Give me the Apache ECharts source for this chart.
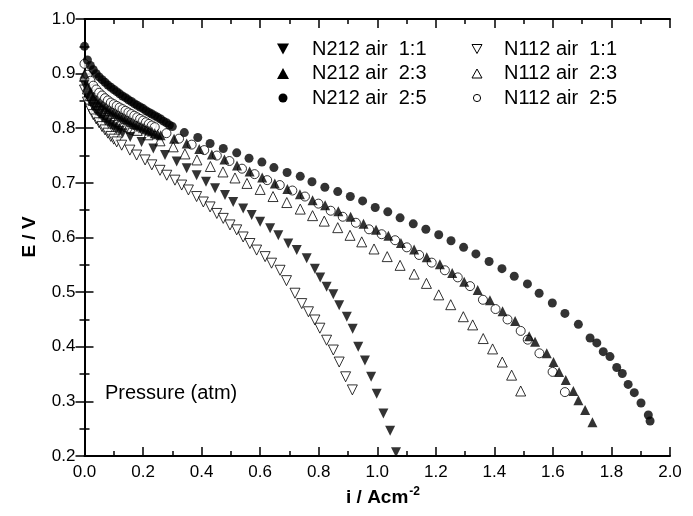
<!DOCTYPE html>
<html>
<head>
<meta charset="utf-8">
<script src="https://cdn.jsdelivr.net/npm/echarts@6/dist/echarts.min.js"></script>
<style>
  html, body { margin: 0; padding: 0; background: #fff; }
  #chart { width: 693px; height: 516px; }
</style>
</head>
<body>
<div id="chart"></div>
<script>
// Polarization curves: cell voltage E (V) vs current density i (A cm^-2), [i, E] pairs
const n212_11 = [
  [0.00,0.880],[0.01,0.860],[0.02,0.848],[0.03,0.839],[0.04,0.832],[0.05,0.826],[0.06,0.820],
  [0.07,0.815],[0.08,0.810],[0.09,0.806],[0.10,0.802],[0.11,0.798],[0.12,0.795],[0.13,0.791],
  [0.156,0.784],[0.195,0.775],[0.235,0.763],[0.275,0.751],[0.315,0.739],[0.349,0.727],[0.383,0.714],
  [0.415,0.702],[0.446,0.690],[0.480,0.678],[0.508,0.665],[0.542,0.653],[0.571,0.641],[0.600,0.629],
  [0.634,0.617],[0.662,0.604],[0.696,0.589],[0.725,0.577],[0.759,0.562],[0.787,0.543],[0.805,0.527],
  [0.827,0.510],[0.850,0.496],[0.870,0.476],[0.896,0.455],[0.916,0.433],[0.935,0.400],[0.958,0.375],
  [0.979,0.345],[0.998,0.314],[1.021,0.278],[1.044,0.246],[1.064,0.207]
];
const n212_23 = [
  [0.00,0.900],[0.01,0.878],[0.02,0.866],[0.03,0.858],[0.04,0.852],[0.05,0.847],[0.06,0.843],
  [0.07,0.839],[0.08,0.835],[0.09,0.832],[0.10,0.829],[0.11,0.826],[0.12,0.823],[0.13,0.820],
  [0.14,0.817],[0.15,0.814],[0.16,0.811],[0.17,0.808],[0.18,0.806],[0.19,0.803],[0.20,0.801],
  [0.21,0.798],[0.22,0.796],[0.23,0.794],[0.24,0.791],[0.25,0.789],[0.26,0.787],
  [0.306,0.781],[0.349,0.772],[0.392,0.762],[0.435,0.752],[0.478,0.743],[0.521,0.732],[0.564,0.721],
  [0.607,0.710],[0.650,0.699],[0.693,0.689],[0.736,0.679],[0.779,0.668],[0.822,0.659],[0.867,0.648],
  [0.909,0.638],[0.953,0.625],[0.996,0.614],[1.038,0.603],[1.081,0.590],[1.126,0.578],[1.169,0.564],
  [1.214,0.551],[1.256,0.535],[1.297,0.519],[1.343,0.504],[1.385,0.485],[1.428,0.465],[1.471,0.447],
  [1.519,0.419],[1.539,0.409],[1.579,0.388],[1.602,0.372],[1.621,0.354],[1.644,0.339],[1.670,0.319],
  [1.687,0.302],[1.710,0.284],[1.735,0.262]
];
const n212_25 = [
  [0.00,0.950],[0.01,0.925],[0.02,0.915],[0.03,0.907],[0.04,0.900],[0.05,0.894],[0.06,0.889],
  [0.07,0.884],[0.08,0.879],[0.09,0.875],[0.10,0.871],[0.11,0.867],[0.12,0.863],[0.13,0.859],
  [0.14,0.856],[0.15,0.852],[0.16,0.849],[0.17,0.845],[0.18,0.842],[0.19,0.839],[0.20,0.836],
  [0.21,0.832],[0.22,0.829],[0.23,0.826],[0.24,0.823],[0.25,0.820],[0.26,0.817],[0.27,0.813],
  [0.28,0.810],[0.29,0.806],[0.30,0.803],
  [0.341,0.792],[0.387,0.783],[0.429,0.772],[0.474,0.763],[0.520,0.755],[0.562,0.745],[0.606,0.738],
  [0.647,0.728],[0.692,0.719],[0.737,0.712],[0.777,0.702],[0.821,0.692],[0.865,0.684],[0.908,0.675],
  [0.950,0.667],[0.993,0.655],[1.036,0.647],[1.078,0.636],[1.123,0.625],[1.166,0.615],[1.210,0.605],
  [1.252,0.594],[1.295,0.582],[1.337,0.570],[1.382,0.556],[1.426,0.543],[1.468,0.529],[1.513,0.515],
  [1.553,0.498],[1.598,0.480],[1.641,0.461],[1.687,0.441],[1.727,0.416],[1.750,0.407],[1.772,0.391],
  [1.795,0.382],[1.818,0.362],[1.837,0.351],[1.857,0.331],[1.878,0.316],[1.901,0.297],[1.926,0.275],
  [1.932,0.264]
];
const n112_11 = [
  [0.00,0.870],[0.01,0.848],[0.02,0.835],[0.03,0.825],[0.04,0.817],[0.05,0.810],[0.06,0.803],
  [0.07,0.797],[0.08,0.791],[0.09,0.785],[0.10,0.780],[0.11,0.775],
  [0.127,0.769],[0.155,0.760],[0.178,0.751],[0.207,0.742],[0.230,0.733],[0.258,0.723],[0.281,0.714],
  [0.309,0.705],[0.332,0.696],[0.355,0.687],[0.383,0.675],[0.406,0.665],[0.429,0.656],[0.452,0.644],
  [0.474,0.635],[0.497,0.623],[0.520,0.614],[0.542,0.601],[0.565,0.589],[0.588,0.577],[0.617,0.565],
  [0.639,0.553],[0.668,0.540],[0.690,0.521],[0.719,0.498],[0.742,0.479],[0.765,0.464],[0.787,0.449],
  [0.804,0.434],[0.827,0.412],[0.850,0.394],[0.870,0.372],[0.892,0.345],[0.915,0.321]
];
const n112_23 = [
  [0.00,0.895],[0.01,0.872],[0.02,0.860],[0.03,0.851],[0.04,0.844],[0.05,0.838],[0.06,0.833],
  [0.07,0.829],[0.08,0.825],[0.09,0.821],[0.10,0.818],[0.11,0.815],[0.12,0.812],[0.13,0.809],
  [0.14,0.806],[0.15,0.803],[0.16,0.800],[0.17,0.798],[0.18,0.796],
  [0.217,0.788],[0.258,0.777],[0.303,0.766],[0.343,0.753],[0.384,0.742],[0.430,0.730],[0.473,0.720],
  [0.514,0.709],[0.555,0.699],[0.600,0.688],[0.644,0.675],[0.691,0.664],[0.737,0.652],[0.779,0.640],
  [0.819,0.630],[0.865,0.618],[0.907,0.604],[0.947,0.592],[0.989,0.579],[1.034,0.565],[1.078,0.549],
  [1.126,0.533],[1.168,0.516],[1.210,0.495],[1.251,0.477],[1.294,0.455],[1.326,0.440],[1.362,0.415],
  [1.394,0.396],[1.427,0.372],[1.459,0.348],[1.490,0.319]
];
const n112_25 = [
  [0.00,0.918],[0.01,0.898],[0.02,0.887],[0.03,0.878],[0.04,0.871],[0.05,0.865],[0.06,0.860],
  [0.07,0.855],[0.08,0.851],[0.09,0.847],[0.10,0.844],[0.11,0.841],[0.12,0.838],[0.13,0.835],
  [0.14,0.832],[0.15,0.829],[0.16,0.826],[0.17,0.823],[0.18,0.820],[0.19,0.817],[0.20,0.814],
  [0.21,0.811],[0.22,0.808],[0.23,0.805],[0.24,0.802],
  [0.280,0.791],[0.323,0.781],[0.366,0.770],[0.409,0.760],[0.452,0.750],[0.495,0.740],[0.538,0.726],
  [0.581,0.716],[0.624,0.705],[0.667,0.696],[0.710,0.686],[0.753,0.675],[0.799,0.662],[0.841,0.649],
  [0.882,0.638],[0.927,0.627],[0.972,0.615],[1.015,0.606],[1.061,0.595],[1.101,0.582],[1.143,0.568],
  [1.186,0.554],[1.231,0.540],[1.275,0.527],[1.317,0.511],[1.361,0.486],[1.404,0.469],[1.445,0.450],
  [1.490,0.429],[1.514,0.413],[1.554,0.388],[1.599,0.354],[1.641,0.317]
];

const seriesNames = ['N212 air  1:1', 'N212 air  2:3', 'N212 air  2:5',
                     'N112 air  1:1', 'N112 air  2:3', 'N112 air  2:5'];
const xRange = { min: 0, max: 2.0, step: 0.2 };
const yRange = { min: 0.2, max: 1.0, step: 0.1 };

const FONT = 'Liberation Sans, Arial, sans-serif';

// marker: shape name, rotation (deg), filled or hollow
const markers = [
  { symbol: 'triangle', rotate: 180, filled: true },
  { symbol: 'triangle', rotate: 0, filled: true },
  { symbol: 'circle', rotate: 0, filled: true },
  { symbol: 'triangle', rotate: 180, filled: false },
  { symbol: 'triangle', rotate: 0, filled: false },
  { symbol: 'circle', rotate: 0, filled: false }
];
const seriesData = [n212_11, n212_23, n212_25, n112_11, n112_23, n112_25];

function mkSeries(k) {
  const m = markers[k];
  return {
    name: seriesNames[k],
    type: 'scatter',
    data: seriesData[k],
    symbol: m.symbol,
    symbolRotate: m.rotate,
    symbolSize: m.symbol === 'circle' ? 9 : 10,
    itemStyle: {
      color: m.filled ? '#000' : '#fff',
      borderColor: '#000',
      borderWidth: m.filled ? 0 : 1
    },
    emphasis: { disabled: true },
    z: m.filled ? 3 : 2
  };
}

function axis(range, pos, labels, margin) {
  return {
    type: 'value', position: pos, min: range.min, max: range.max, interval: range.step,
    axisLine: { show: true, lineStyle: { color: '#000', width: 2 } },
    axisTick: { show: true, inside: true, length: 9, lineStyle: { color: '#000', width: 1.5 } },
    minorTick: { show: true, splitNumber: 2, length: 5, lineStyle: { color: '#000', width: 1.5 } },
    splitLine: { show: false },
    axisLabel: {
      show: labels, color: '#000', fontSize: 17, fontFamily: FONT, margin: margin,
      formatter: v => v.toFixed(1)
    }
  };
}

// key: symbols drawn as plain shapes, two columns of three rows
function keyItems() {
  const cols = [{ sx: 283, tx: 312 }, { sx: 477, tx: 504 }];
  const rows = [49, 73.5, 98];
  const items = [];
  seriesNames.forEach(function (name, k) {
    const col = cols[Math.floor(k / 3)], cy = rows[k % 3], cx = col.sx, m = markers[k];
    const big = m.filled;
    const style = m.filled ? { fill: '#000' } : { fill: '#fff', stroke: '#000', lineWidth: 1 };
    if (m.symbol === 'circle') {
      items.push({ type: 'circle', shape: { cx: cx, cy: cy, r: big ? 4.5 : 3.6 }, style: style });
    } else {
      const hw = big ? 6 : 5, hh = big ? 5.5 : 4.5;
      const pts = m.rotate === 180
        ? [[cx - hw, cy - hh], [cx + hw, cy - hh], [cx, cy + hh]]
        : [[cx, cy - hh], [cx + hw, cy + hh], [cx - hw, cy + hh]];
      items.push({ type: 'polygon', shape: { points: pts }, style: style });
    }
    items.push({
      type: 'text', x: col.tx, y: cy,
      style: { text: name, font: '20px ' + FONT, fill: '#000', verticalAlign: 'middle' }
    });
  });
  return items;
}

const chart = echarts.init(document.getElementById('chart'));
chart.setOption({
  animation: false,
  backgroundColor: '#fff',
  grid: { left: 84.5, right: 23, top: 19, bottom: 60 },
  xAxis: [axis(xRange, 'bottom', true, 8), axis(xRange, 'top', false, 8)],
  yAxis: [axis(yRange, 'left', true, 9), axis(yRange, 'right', false, 9)],
  graphic: keyItems().concat([
    {
      type: 'text', x: 105, y: 393,
      style: { text: 'Pressure (atm)', font: '20px ' + FONT, fill: '#000', verticalAlign: 'middle' }
    },
    {
      type: 'text', x: 30, y: 237, rotation: Math.PI / 2,
      style: { text: 'E / V', font: 'bold 19px ' + FONT, fill: '#000', align: 'center', verticalAlign: 'middle' }
    },
    {
      type: 'text', x: 383, y: 498,
      style: {
        text: '{a|i / Acm}{s|-2}',
        align: 'center', verticalAlign: 'middle',
        rich: {
          a: { font: 'bold 19px ' + FONT, fill: '#000' },
          s: { font: 'bold 12px ' + FONT, fill: '#000', verticalAlign: 'top', padding: [0, 0, 12, 1] }
        }
      }
    }
  ]),
  series: seriesNames.map((n, k) => mkSeries(k))
});
</script>
</body>
</html>
